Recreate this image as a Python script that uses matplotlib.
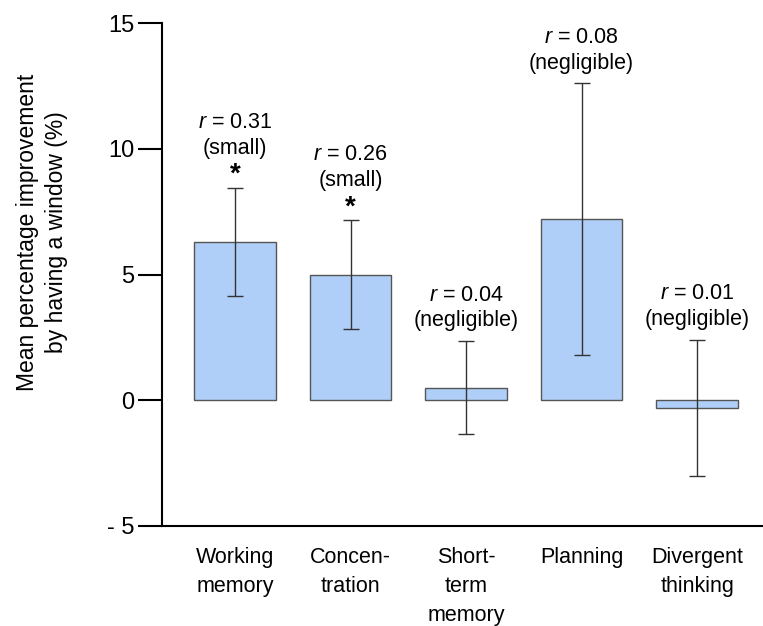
import matplotlib
matplotlib.use("Agg")
import matplotlib.pyplot as plt

categories = ["Working\nmemory", "Concen-\ntration", "Short-\nterm\nmemory", "Planning", "Divergent\nthinking"]
means = [6.3, 5.0, 0.5, 7.2, -0.3]
errors = [2.15, 2.15, 1.85, 5.4, 2.7]
r_values = ["0.31", "0.26", "0.04", "0.08", "0.01"]
effect_labels = ["(small)", "(small)", "(negligible)", "(negligible)", "(negligible)"]
significant = [True, True, False, False, False]
yticks = [-5, 0, 5, 10, 15]
ytick_labels = ["- 5", "0", "5", "10", "15"]

plt.rcParams['font.family'] = ['Liberation Sans', 'DejaVu Sans']
plt.rcParams['mathtext.fontset'] = 'custom'
plt.rcParams['mathtext.rm'] = 'Liberation Sans'
plt.rcParams['mathtext.it'] = 'Liberation Sans:italic'

W, H = 763, 626
fig = plt.figure(figsize=(W / 100, H / 100), dpi=100)
ax = fig.add_axes([162 / W, 1 - 526 / H, 1 - 162 / W, (526 - 23) / H])

x = list(range(len(categories)))
ax.bar(x, means, width=0.705, color='#b0cff8', edgecolor='#555555', linewidth=1.0, zorder=2)
ax.errorbar(x, means, yerr=errors, fmt='none', ecolor='#333333', elinewidth=1.0,
            capsize=6, capthick=1.0, zorder=3)

ax.set_xlim(-0.632, 4.57)
ax.set_ylim(-5, 15)
ax.set_yticks(yticks)
ax.set_yticklabels(ytick_labels, fontsize=17)
ax.set_xticks(x)
ax.set_xticklabels(categories, fontsize=15.5, linespacing=1.5, va='top')
ax.tick_params(axis='y', length=17, width=1.5, pad=3, colors='black')
ax.tick_params(axis='x', length=0, pad=15)

for s in ['top', 'right']:
    ax.spines[s].set_visible(False)
ax.spines['left'].set_linewidth(1.5)
ax.spines['bottom'].set_linewidth(1.5)

for i in x:
    top = means[i] + errors[i]
    if significant[i]:
        ax.annotate("*", xy=(i, top), xytext=(0, 0), textcoords='offset points',
                    ha='center', va='bottom', fontsize=20, fontweight='bold')
        off = 21
    else:
        off = 7
    ax.annotate("$r$ = " + r_values[i] + "\n" + effect_labels[i], xy=(i, top),
                xytext=(0, off), textcoords='offset points', ha='center', va='bottom',
                fontsize=15.5, linespacing=1.3)

fig.text(42 / W, 1 - 232 / H, "Mean percentage improvement\nby having a window (%)",
         rotation=90, ha='center', va='center', fontsize=16.5, linespacing=1.35)

fig.savefig("out.png", dpi=100, facecolor='white')
